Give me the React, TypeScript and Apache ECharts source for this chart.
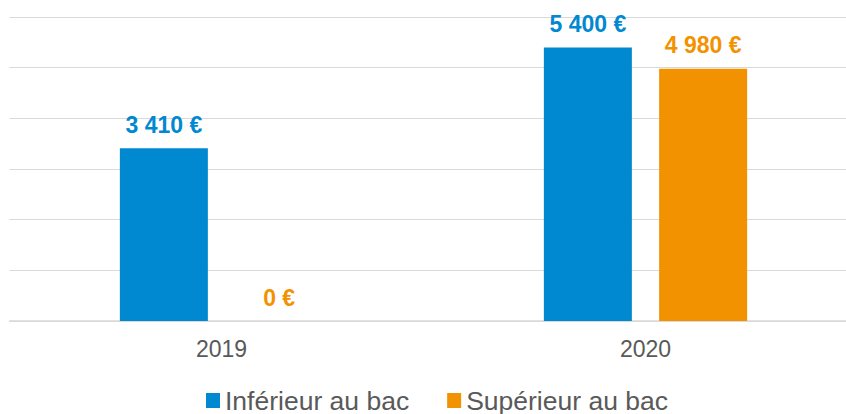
import React, { useEffect, useRef } from "react";
import * as echarts from "echarts";

const categories = ["2019", "2020"];
const inferieur = [3410, 5400];
const superieur = [0, 4980];
const seriesNames = ["Inférieur au bac", "Supérieur au bac"];
const yTicks = { min: 0, max: 6000, interval: 1000 };

const BLUE = "#0088D0";
const ORANGE = "#F39200";
const FONT = "Arial, 'Liberation Sans', sans-serif";

function fmt(v: number): string {
  const s = String(Math.round(v));
  return s.replace(/\B(?=(\d{3})+(?!\d))/g, " ") + " €";
}

export default function App() {
  const ref = useRef<HTMLDivElement>(null);
  useEffect(() => {
    document.body.style.margin = "0";
    document.body.style.overflow = "hidden";
    if (!ref.current) return;
    const chart = echarts.init(ref.current, null, { renderer: "svg" });
    const label = (color: string) => ({
      show: true,
      position: "top" as const,
      distance: 12,
      color,
      fontFamily: FONT,
      fontWeight: "bold" as const,
      fontSize: 23,
      formatter: (p: any) => fmt(p.value),
    });
    chart.setOption({
      animation: false,
      backgroundColor: "#ffffff",
      grid: { left: 9.5, width: 848, top: 17, bottom: 93, containLabel: false },
      legend: {
        data: seriesNames,
        left: 201,
        top: 382,
        icon: "rect",
        itemWidth: 14,
        itemHeight: 15,
        itemGap: 38,
        textStyle: { fontSize: 26.5, color: "#595959", fontFamily: FONT },
      },
      xAxis: {
        type: "category",
        data: categories,
        axisLine: { lineStyle: { color: "#D9D9D9", width: 1.5 } },
        axisTick: { show: false },
        axisLabel: { color: "#595959", fontSize: 23, fontFamily: FONT, margin: 16 },
      },
      yAxis: {
        type: "value",
        min: yTicks.min,
        max: yTicks.max,
        interval: yTicks.interval,
        axisLabel: { show: false },
        axisLine: { show: false },
        axisTick: { show: false },
        splitLine: { lineStyle: { color: "#D9D9D9", width: 1 } },
      },
      series: [
        {
          name: seriesNames[0],
          type: "bar",
          data: inferieur,
          barWidth: 88,
          barGap: "31%",
          itemStyle: { color: BLUE },
          label: label(BLUE),
        },
        {
          name: seriesNames[1],
          type: "bar",
          data: superieur,
          barWidth: 88,
          itemStyle: { color: ORANGE },
          label: label(ORANGE),
        },
      ],
    });
    return () => chart.dispose();
  }, []);
  return <div ref={ref} style={{ width: 860, height: 414 }} />;
}
